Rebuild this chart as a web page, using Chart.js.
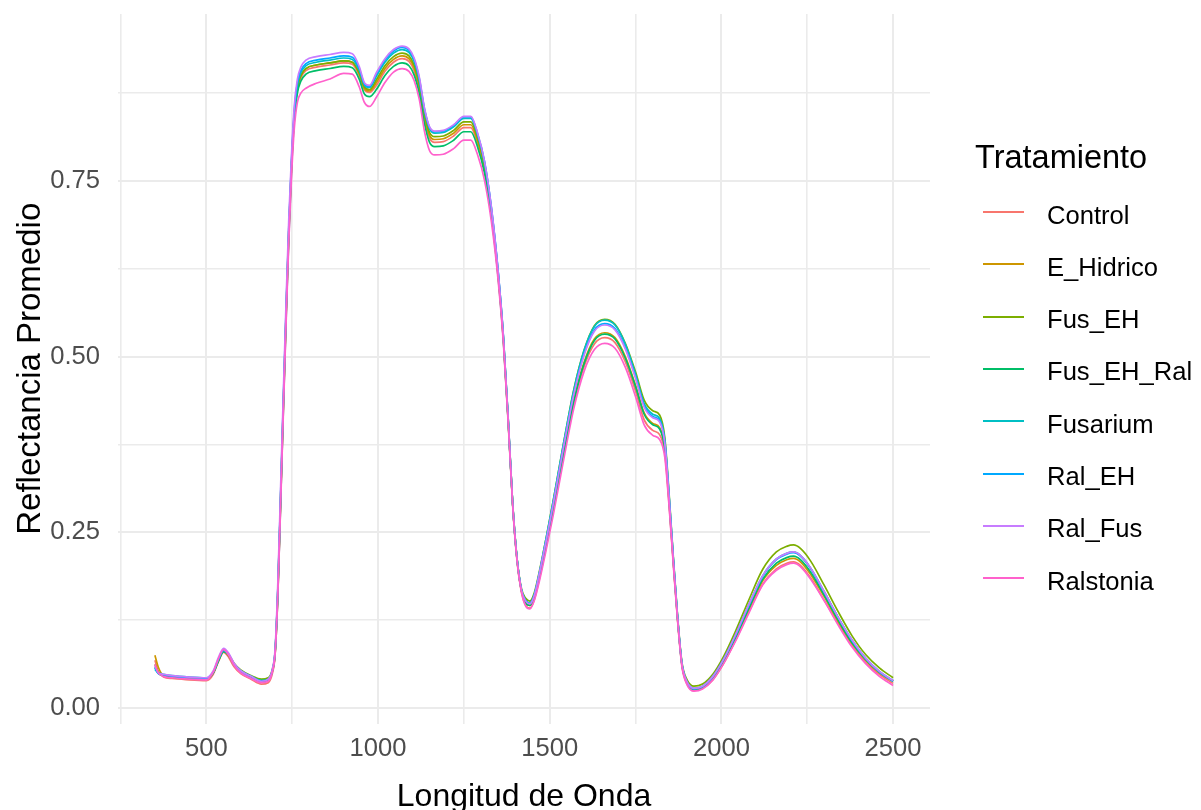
<!DOCTYPE html>
<html lang="es">
<head>
    <meta charset="UTF-8">
    <title>Reflectancia Promedio por Tratamiento</title>
    <script src="https://cdn.jsdelivr.net/npm/chart.js"></script>
    <style>
        body { margin: 0; background: #ffffff; overflow: hidden; font-family: "Liberation Sans", Arial, sans-serif; }
        #wrap { position: relative; width: 1201px; height: 830px; }
        #legend { position: absolute; left: 0; top: 0; }
        .legend-title { position: absolute; left: 975px; top: 141px; font-size: 32.5px; line-height: 32px; color: #000; white-space: nowrap; }
        .legend-key { position: absolute; left: 983px; width: 41px; height: 2px; }
        .legend-label { position: absolute; left: 1047px; font-size: 25.6px; line-height: 26px; color: #000; white-space: nowrap; }
    </style>
</head>
<body>
    <div id="wrap">
        <canvas id="spectraChart" width="1201" height="830"></canvas>
        <div id="legend"></div>
    </div>

    <script>
        // longitudes de onda (nm)
        const wavelengths = [
            350, 360, 375, 400, 450, 500, 520, 535, 550, 565,
            580, 600, 630, 660, 680, 692, 700, 708, 716, 724,
            732, 740, 748, 756, 765, 775, 790, 820, 860, 900,
            925, 945, 960, 975, 995, 1020, 1045, 1070, 1090, 1105,
            1120, 1135, 1150, 1165, 1190, 1220, 1250, 1270, 1290, 1310,
            1330, 1350, 1365, 1380, 1392, 1405, 1418, 1430, 1442, 1455,
            1470, 1490, 1510, 1540, 1570, 1600, 1630, 1660, 1690, 1720,
            1750, 1775, 1800, 1820, 1835, 1848, 1860, 1872, 1885, 1900,
            1920, 1945, 1975, 2005, 2040, 2080, 2120, 2160, 2190, 2210,
            2230, 2260, 2300, 2340, 2380, 2420, 2460, 2500
        ];

        // reflectancia promedio de cada tratamiento
        const control = [
            0.068, 0.052, 0.044, 0.042, 0.040, 0.039, 0.048, 0.066, 0.079, 0.072,
            0.059, 0.049, 0.041, 0.034, 0.036, 0.049, 0.075, 0.160, 0.290, 0.425,
            0.555, 0.675, 0.771, 0.841, 0.880, 0.897, 0.907, 0.912, 0.915, 0.918,
            0.916, 0.900, 0.880, 0.876, 0.886, 0.906, 0.919, 0.924, 0.920, 0.907,
            0.880, 0.838, 0.811, 0.805, 0.806, 0.814, 0.826, 0.826, 0.803, 0.766,
            0.703, 0.614, 0.524, 0.399, 0.290, 0.209, 0.164, 0.146, 0.142, 0.154,
            0.184, 0.230, 0.279, 0.358, 0.432, 0.486, 0.518, 0.527, 0.520, 0.493,
            0.451, 0.410, 0.395, 0.389, 0.363, 0.287, 0.205, 0.127, 0.060, 0.034,
            0.025, 0.028, 0.040, 0.062, 0.095, 0.137, 0.176, 0.198, 0.206, 0.208,
            0.203, 0.185, 0.153, 0.120, 0.089, 0.065, 0.048, 0.035
        ];
        const eHidrico = [
            0.075, 0.058, 0.046, 0.044, 0.042, 0.041, 0.050, 0.067, 0.080, 0.074,
            0.062, 0.052, 0.044, 0.038, 0.040, 0.052, 0.078, 0.165, 0.295, 0.430,
            0.559, 0.679, 0.774, 0.843, 0.883, 0.900, 0.910, 0.915, 0.918, 0.921,
            0.919, 0.903, 0.882, 0.878, 0.890, 0.910, 0.923, 0.928, 0.924, 0.911,
            0.884, 0.842, 0.815, 0.809, 0.810, 0.818, 0.830, 0.830, 0.807, 0.769,
            0.706, 0.615, 0.525, 0.400, 0.290, 0.210, 0.166, 0.150, 0.146, 0.158,
            0.187, 0.233, 0.283, 0.363, 0.438, 0.492, 0.525, 0.534, 0.527, 0.500,
            0.459, 0.420, 0.405, 0.399, 0.371, 0.292, 0.208, 0.129, 0.062, 0.036,
            0.027, 0.030, 0.042, 0.064, 0.098, 0.140, 0.181, 0.203, 0.211, 0.213,
            0.208, 0.190, 0.158, 0.123, 0.092, 0.068, 0.050, 0.038
        ];
        const fusEH = [
            0.062, 0.051, 0.047, 0.045, 0.043, 0.042, 0.051, 0.068, 0.081, 0.076,
            0.064, 0.054, 0.046, 0.041, 0.043, 0.055, 0.080, 0.166, 0.296, 0.431,
            0.560, 0.679, 0.774, 0.843, 0.883, 0.900, 0.910, 0.915, 0.918, 0.921,
            0.919, 0.904, 0.884, 0.880, 0.894, 0.914, 0.927, 0.932, 0.928, 0.915,
            0.888, 0.846, 0.819, 0.813, 0.814, 0.822, 0.834, 0.834, 0.811, 0.772,
            0.708, 0.617, 0.527, 0.401, 0.291, 0.212, 0.169, 0.156, 0.152, 0.164,
            0.195, 0.243, 0.295, 0.376, 0.453, 0.509, 0.544, 0.553, 0.546, 0.519,
            0.478, 0.438, 0.423, 0.417, 0.385, 0.302, 0.214, 0.133, 0.065, 0.040,
            0.031, 0.034, 0.048, 0.072, 0.108, 0.154, 0.197, 0.222, 0.230, 0.232,
            0.227, 0.209, 0.174, 0.137, 0.103, 0.076, 0.057, 0.043
        ];
        const fusEHRal = [
            0.058, 0.049, 0.046, 0.044, 0.042, 0.041, 0.050, 0.067, 0.080, 0.075,
            0.063, 0.053, 0.045, 0.039, 0.041, 0.053, 0.077, 0.160, 0.288, 0.422,
            0.551, 0.670, 0.766, 0.836, 0.875, 0.892, 0.902, 0.907, 0.910, 0.913,
            0.911, 0.895, 0.874, 0.870, 0.880, 0.900, 0.913, 0.918, 0.914, 0.901,
            0.874, 0.832, 0.805, 0.799, 0.800, 0.808, 0.820, 0.820, 0.798, 0.761,
            0.700, 0.611, 0.522, 0.398, 0.289, 0.210, 0.166, 0.150, 0.146, 0.158,
            0.186, 0.232, 0.282, 0.361, 0.436, 0.490, 0.523, 0.532, 0.525, 0.498,
            0.457, 0.418, 0.403, 0.397, 0.369, 0.291, 0.208, 0.129, 0.062, 0.036,
            0.027, 0.030, 0.043, 0.066, 0.099, 0.142, 0.183, 0.206, 0.214, 0.216,
            0.211, 0.193, 0.160, 0.125, 0.093, 0.069, 0.051, 0.038
        ];
        const fusarium = [
            0.055, 0.050, 0.048, 0.046, 0.044, 0.043, 0.051, 0.069, 0.082, 0.076,
            0.063, 0.053, 0.045, 0.039, 0.041, 0.053, 0.080, 0.168, 0.298, 0.434,
            0.563, 0.683, 0.777, 0.846, 0.887, 0.904, 0.914, 0.919, 0.922, 0.925,
            0.923, 0.908, 0.887, 0.883, 0.899, 0.919, 0.932, 0.937, 0.933, 0.920,
            0.893, 0.851, 0.824, 0.818, 0.819, 0.827, 0.839, 0.839, 0.815, 0.776,
            0.711, 0.619, 0.528, 0.402, 0.291, 0.211, 0.167, 0.153, 0.149, 0.161,
            0.193, 0.243, 0.294, 0.376, 0.452, 0.509, 0.543, 0.552, 0.545, 0.518,
            0.475, 0.433, 0.418, 0.412, 0.381, 0.299, 0.212, 0.131, 0.063, 0.037,
            0.028, 0.031, 0.045, 0.068, 0.103, 0.147, 0.188, 0.212, 0.220, 0.222,
            0.217, 0.199, 0.165, 0.129, 0.097, 0.071, 0.052, 0.039
        ];
        const ralEH = [
            0.057, 0.049, 0.047, 0.045, 0.043, 0.042, 0.051, 0.069, 0.082, 0.076,
            0.062, 0.052, 0.044, 0.038, 0.040, 0.053, 0.080, 0.170, 0.302, 0.438,
            0.567, 0.686, 0.781, 0.850, 0.890, 0.907, 0.917, 0.922, 0.925, 0.928,
            0.926, 0.910, 0.888, 0.884, 0.902, 0.922, 0.935, 0.940, 0.936, 0.923,
            0.896, 0.853, 0.826, 0.820, 0.821, 0.829, 0.841, 0.841, 0.817, 0.778,
            0.712, 0.620, 0.529, 0.402, 0.291, 0.211, 0.167, 0.153, 0.149, 0.161,
            0.192, 0.240, 0.291, 0.372, 0.448, 0.504, 0.538, 0.547, 0.540, 0.513,
            0.471, 0.430, 0.415, 0.409, 0.379, 0.298, 0.212, 0.131, 0.062, 0.036,
            0.027, 0.030, 0.044, 0.068, 0.102, 0.146, 0.187, 0.211, 0.219, 0.221,
            0.216, 0.198, 0.164, 0.129, 0.096, 0.070, 0.051, 0.038
        ];
        const ralFus = [
            0.060, 0.050, 0.048, 0.046, 0.044, 0.043, 0.053, 0.072, 0.085, 0.078,
            0.064, 0.053, 0.045, 0.038, 0.041, 0.055, 0.084, 0.178, 0.312, 0.448,
            0.578, 0.697, 0.789, 0.857, 0.895, 0.912, 0.922, 0.927, 0.930, 0.933,
            0.931, 0.913, 0.890, 0.886, 0.904, 0.924, 0.937, 0.942, 0.938, 0.925,
            0.898, 0.854, 0.827, 0.821, 0.822, 0.830, 0.842, 0.842, 0.818, 0.778,
            0.713, 0.620, 0.529, 0.403, 0.291, 0.211, 0.167, 0.152, 0.148, 0.160,
            0.192, 0.239, 0.290, 0.371, 0.446, 0.502, 0.536, 0.545, 0.538, 0.511,
            0.469, 0.428, 0.413, 0.407, 0.377, 0.297, 0.211, 0.131, 0.063, 0.037,
            0.028, 0.031, 0.045, 0.068, 0.103, 0.147, 0.188, 0.212, 0.220, 0.222,
            0.217, 0.199, 0.165, 0.129, 0.097, 0.071, 0.052, 0.039
        ];
        const ralstonia = [
            0.062, 0.050, 0.045, 0.043, 0.041, 0.040, 0.051, 0.070, 0.083, 0.075,
            0.061, 0.050, 0.042, 0.036, 0.038, 0.051, 0.076, 0.158, 0.285, 0.418,
            0.546, 0.664, 0.757, 0.825, 0.862, 0.875, 0.882, 0.889, 0.895, 0.903,
            0.902, 0.884, 0.862, 0.856, 0.869, 0.890, 0.905, 0.910, 0.906, 0.893,
            0.866, 0.821, 0.793, 0.787, 0.788, 0.796, 0.808, 0.808, 0.787, 0.751,
            0.692, 0.607, 0.519, 0.396, 0.288, 0.208, 0.164, 0.145, 0.141, 0.153,
            0.181, 0.226, 0.274, 0.352, 0.426, 0.479, 0.510, 0.519, 0.512, 0.485,
            0.443, 0.403, 0.388, 0.382, 0.357, 0.284, 0.203, 0.126, 0.059, 0.033,
            0.024, 0.027, 0.040, 0.062, 0.094, 0.135, 0.175, 0.196, 0.204, 0.206,
            0.201, 0.183, 0.152, 0.118, 0.087, 0.063, 0.045, 0.032
        ];

        const treatments = ["Control", "E_Hidrico", "Fus_EH", "Fus_EH_Ral", "Fusarium", "Ral_EH", "Ral_Fus", "Ralstonia"];
        const seriesValues = [control, eHidrico, fusEH, fusEHRal, fusarium, ralEH, ralFus, ralstonia];
        const colors = ["#F8766D", "#CD9600", "#7CAE00", "#00BE67", "#00BFC4", "#00A9FF", "#C77CFF", "#FF61CC"];

        const xTicks = [250, 500, 750, 1000, 1250, 1500, 1750, 2000, 2250, 2500];
        const yTicks = [0, 0.125, 0.25, 0.375, 0.5, 0.625, 0.75, 0.875];

        const fontFamily = '"Liberation Sans", Arial, sans-serif';

        const datasets = treatments.map((name, i) => ({
            label: name,
            data: wavelengths.map((w, j) => ({ x: w, y: seriesValues[i][j] })),
            borderColor: colors[i],
            borderWidth: 1.7,
            pointRadius: 0,
            fill: false,
            cubicInterpolationMode: "monotone",
            order: treatments.length - i   // el último tratamiento queda encima
        }));

        const isMajorX = v => v % 500 === 0;
        const isMajorY = v => Math.abs(v * 4 - Math.round(v * 4)) < 1e-9;

        new Chart(document.getElementById("spectraChart"), {
            type: "line",
            data: { datasets: datasets },
            options: {
                responsive: false,
                animation: false,
                devicePixelRatio: 1,
                layout: { padding: { left: 0, right: 271, top: 14, bottom: 0 } },
                plugins: { legend: { display: false }, tooltip: { enabled: false } },
                scales: {
                    x: {
                        type: "linear",
                        min: 242.5,
                        max: 2607.5,
                        afterBuildTicks: axis => { axis.ticks = xTicks.map(v => ({ value: v })); },
                        afterFit: axis => {
                            axis.height = 106.5;
                            axis.paddingLeft = 0;
                            axis.paddingRight = 0;
                        },
                        border: { display: false },
                        grid: {
                            drawTicks: false,
                            color: "#EBEBEB",
                            lineWidth: ctx => (ctx.tick && isMajorX(ctx.tick.value)) ? 2 : 1.6
                        },
                        ticks: {
                            autoSkip: false,
                            maxRotation: 0,
                            padding: 10,
                            color: "#4D4D4D",
                            font: { family: fontFamily, size: 25.6 },
                            callback: v => isMajorX(v) ? String(v) : ""
                        },
                        title: {
                            display: true,
                            text: "Longitud de Onda",
                            color: "#000000",
                            font: { family: fontFamily, size: 32 },
                            padding: { top: 0, bottom: 14 }
                        }
                    },
                    y: {
                        type: "linear",
                        min: -0.0221,
                        max: 0.9876,
                        afterBuildTicks: axis => { axis.ticks = yTicks.map(v => ({ value: v })); },
                        afterFit: axis => {
                            axis.width = 118;
                            axis.paddingTop = 0;
                            axis.paddingBottom = 0;
                        },
                        border: { display: false },
                        grid: {
                            drawTicks: false,
                            color: "#EBEBEB",
                            lineWidth: ctx => (ctx.tick && isMajorY(ctx.tick.value)) ? 2 : 1.6
                        },
                        ticks: {
                            padding: 18,
                            color: "#4D4D4D",
                            font: { family: fontFamily, size: 25.6 },
                            callback: v => isMajorY(v) ? v.toFixed(2) : ""
                        },
                        title: {
                            display: true,
                            text: "Reflectancia Promedio",
                            color: "#000000",
                            font: { family: fontFamily, size: 33 },
                            padding: { top: 11, bottom: 0 }
                        }
                    }
                }
            }
        });

        // leyenda a la derecha
        const legend = document.getElementById("legend");
        let html = '<div class="legend-title">Tratamiento</div>';
        treatments.forEach((name, i) => {
            const y = 211 + 52.3 * i;
            html += `<div class="legend-key" style="top:${y}px;background:${colors[i]}"></div>`;
            html += `<div class="legend-label" style="top:${y - 9.5}px">${name}</div>`;
        });
        legend.innerHTML = html;
    </script>
</body>
</html>
